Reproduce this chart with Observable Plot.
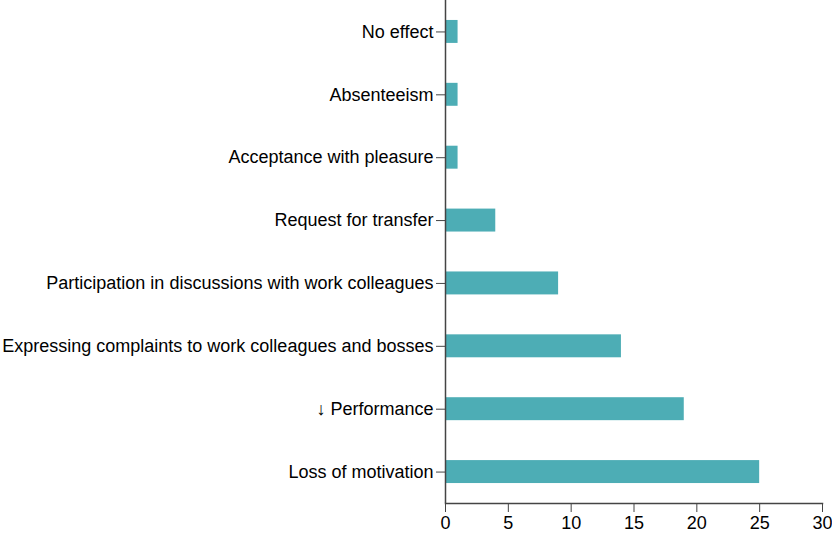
<!DOCTYPE html>
<html>
<head>
<meta charset="utf-8">
<script src="https://cdn.jsdelivr.net/npm/d3@7"></script>
<script src="https://cdn.jsdelivr.net/npm/@observablehq/plot@0.6"></script>
<style>
  html, body { margin: 0; padding: 0; background: #fff; }
  svg text { font-size: 18px; }
</style>
</head>
<body>
<div id="chart"></div>
<script>
const categories = [
  "No effect",
  "Absenteeism",
  "Acceptance with pleasure",
  "Request for transfer",
  "Participation in discussions with work colleagues",
  "Expressing complaints to work colleagues and bosses",
  "↓ Performance",
  "Loss of motivation"
];
const values = [1, 1, 1, 4, 9, 14, 19, 25];
const xTicks = [0, 5, 10, 15, 20, 25, 30];

const data = categories.map((c, i) => ({category: c, value: values[i]}));

const chart = Plot.plot({
  width: 832,
  height: 535,
  marginLeft: 445,
  marginRight: 10,
  marginTop: 0,
  marginBottom: 32,
  style: {fontFamily: "'Liberation Sans', Arial, Helvetica, sans-serif", fontSize: "18px", color: "#000", background: "#fff"},
  x: {domain: [0, 30], ticks: xTicks},
  y: {domain: categories, paddingInner: 0.635, paddingOuter: 0.3175, round: false},
  marks: [
    Plot.barX(data, {x: "value", y: "category", fill: "#4dadb5"}),
    Plot.axisX({ticks: xTicks, tickSize: 9, tickPadding: 4, stroke: "#444", fill: "#000", fontSize: 18, label: null}),
    Plot.axisY({tickSize: 9, tickPadding: 3, stroke: "#444", fill: "#000", fontSize: 18, label: null}),
    Plot.ruleX([0], {stroke: "#444", strokeWidth: 1.5}),
    Plot.frame({anchor: "bottom", stroke: "#444", strokeWidth: 1.5})
  ]
});
document.getElementById("chart").appendChild(chart);
</script>
</body>
</html>
